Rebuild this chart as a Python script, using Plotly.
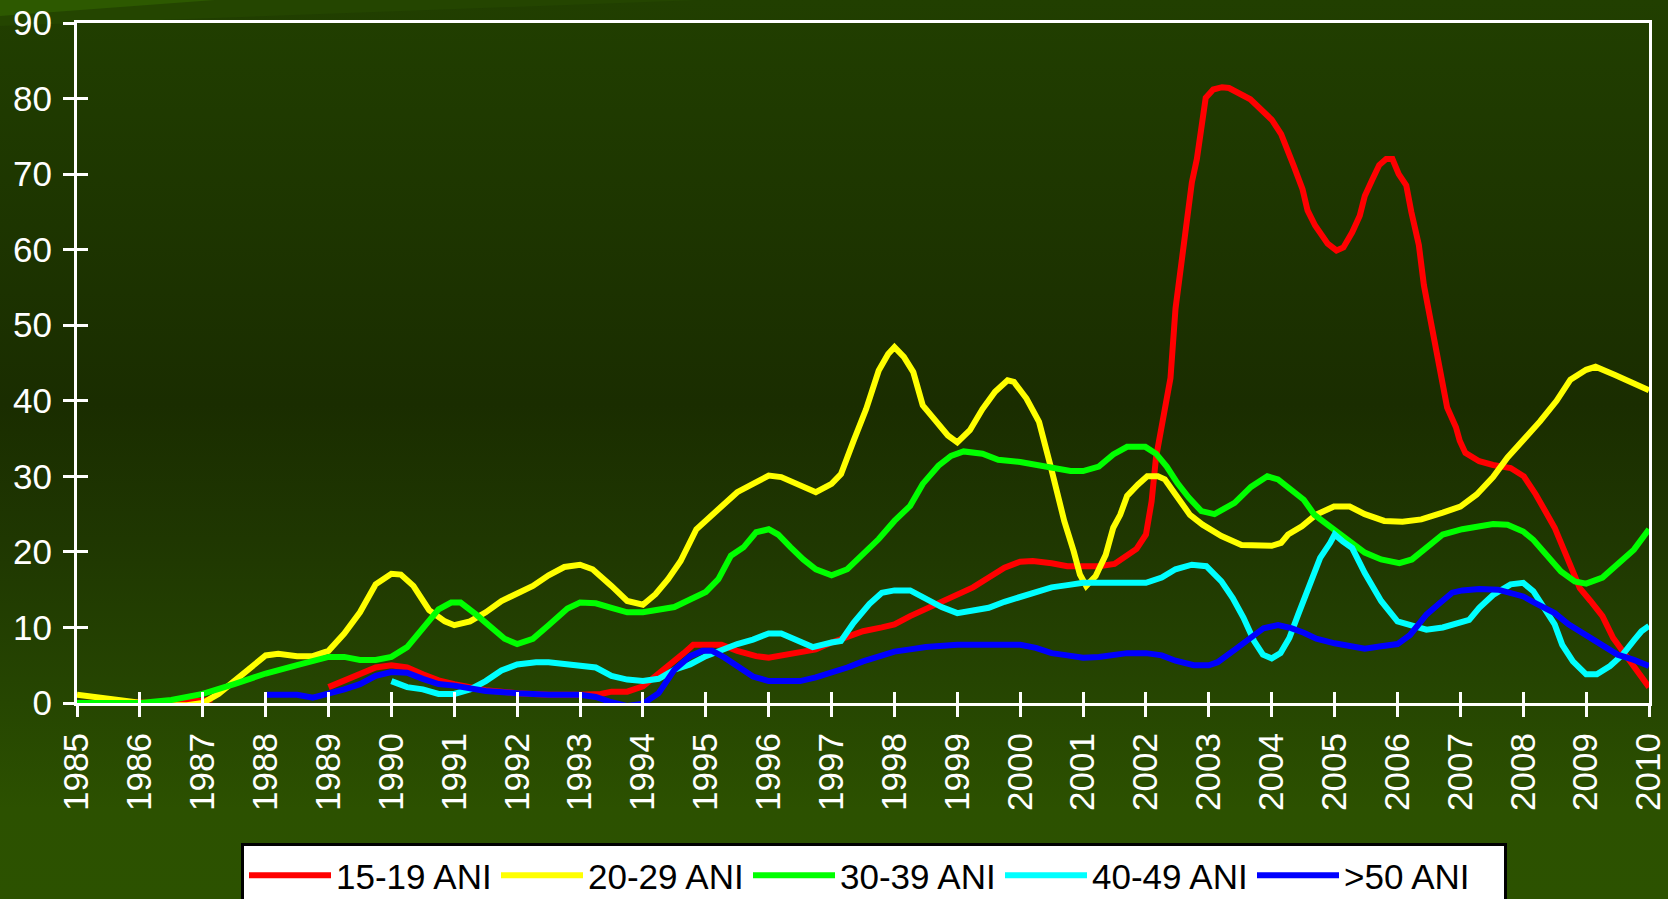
import base64

import plotly.graph_objects as go

# Age groups (ANI = years)
series_names = ["15-19 ANI", "20-29 ANI", "30-39 ANI", "40-49 ANI", ">50 ANI"]
series_colors = ["#ff0000", "#ffff00", "#00ff00", "#00ffff", "#0000ff"]

years_15_19 = [1985, 1986, 1986.5, 1987, 1987.15, None,
               1989, 1989.25, 1989.5, 1989.75, 1990, 1990.25, 1990.5, 1990.75, 1991, 1991.5,
               1992, 1992.5, 1993, 1993.33, 1993.5, 1993.75, 1994, 1994.2, 1994.45, 1994.65,
               1994.8, 1995, 1995.25, 1995.5, 1995.8, 1996, 1996.25, 1996.5, 1996.75, 1997,
               1997.25, 1997.5, 1997.8, 1998, 1998.25, 1998.5, 1998.75, 1999, 1999.25, 1999.5,
               1999.75, 2000, 2000.2, 2000.5, 2000.75, 2001, 2001.25, 2001.5, 2001.65, 2001.85,
               2002, 2002.09, 2002.16, 2002.3, 2002.39, 2002.47, 2002.59, 2002.67, 2002.73,
               2002.81, 2002.87, 2002.95, 2003.07, 2003.21, 2003.32, 2003.66, 2004.0, 2004.15,
               2004.35, 2004.49, 2004.57, 2004.69, 2004.89, 2005.03, 2005.14, 2005.28, 2005.4,
               2005.48, 2005.6, 2005.71, 2005.82, 2005.92, 2006.02, 2006.14, 2006.22, 2006.34,
               2006.42, 2006.51, 2006.59, 2006.68, 2006.79, 2006.85, 2006.93, 2006.99, 2007.08,
               2007.3, 2007.52, 2007.8, 2008.01, 2008.2, 2008.5, 2008.72, 2008.9, 2009.07,
               2009.26, 2009.43, 2009.66, 2009.83, 2010]
vals_15_19 = [0, 0, 0.1, 0.3, 0.5, None,
              2.1, 3, 4, 4.7, 5, 4.7, 3.8, 3, 2.5, 1.7,
              1.3, 1.1, 1.1, 1.2, 1.5, 1.5, 2.2, 3.5, 5.1, 6.6,
              7.7, 7.7, 7.7, 6.9, 6.2, 6, 6.3, 6.6, 7.1, 8,
              8.8, 9.5, 10, 10.4, 11.5, 12.4, 13.3, 14.2, 15.3, 16.6,
              17.9, 18.7, 18.8, 18.5, 18.1, 18.1, 18.1, 18.4, 19.2, 20.4,
              22.3, 26.7, 32.5, 38.6, 43, 52.2, 60.6, 65, 68.9,
              72, 75.5, 80.1, 81.2, 81.5, 81.4, 79.9, 77.2, 75.3,
              71.1, 68, 65.2, 63.2, 60.8, 59.9, 60.3, 62.3, 64.5,
              67.1, 69.3, 71.2, 72, 72, 70, 68.5, 65, 60.6,
              55.3, 51.4, 47.4, 43, 39.1, 38, 36.5, 34.7, 33.1,
              32, 31.5, 31.1, 30, 27.6, 23.2, 18.8, 15.2, 13.5,
              11.5, 8.6, 6, 4, 2.1]

years_20_29 = [1985, 1985.5, 1986, 1986.5, 1986.75, 1987, 1987.25, 1987.5, 1987.75, 1988,
               1988.2, 1988.5, 1988.75, 1989, 1989.25, 1989.5, 1989.75, 1990, 1990.15, 1990.35,
               1990.6, 1990.85, 1991, 1991.25, 1991.5, 1991.75, 1992, 1992.25, 1992.5, 1992.75,
               1993, 1993.2, 1993.5, 1993.75, 1994, 1994.2, 1994.4, 1994.6, 1994.85, 1995,
               1995.25, 1995.5, 1995.75, 1996, 1996.2, 1996.5, 1996.75, 1997, 1997.15, 1997.35,
               1997.55, 1997.75, 1997.9, 1998, 1998.15, 1998.3, 1998.45, 1998.65, 1998.85, 1999,
               1999.2, 1999.4, 1999.6, 1999.8, 1999.9, 2000.1, 2000.3, 2000.5, 2000.7, 2000.85,
               2000.95, 2001.05, 2001.2, 2001.36, 2001.48, 2001.59, 2001.7, 2001.87, 2002.02,
               2002.19, 2002.3, 2002.47, 2002.7, 2002.9, 2003.2, 2003.52, 2003.78, 2004, 2004.15,
               2004.26, 2004.48, 2004.7, 2004.99, 2005.24, 2005.48, 2005.79, 2006.08, 2006.38,
               2006.72, 2007, 2007.26, 2007.52, 2007.75, 2008, 2008.27, 2008.53, 2008.75, 2009,
               2009.15, 2009.46, 2009.72, 2010]
vals_20_29 = [1.1, 0.5, 0.05, -0.3, -0.3, 0, 1.2, 2.9, 4.7, 6.3,
              6.5, 6.2, 6.2, 6.9, 9.2, 12, 15.7, 17.1, 17, 15.5,
              12.3, 10.8, 10.3, 10.8, 12, 13.5, 14.5, 15.5, 16.9, 18,
              18.3, 17.7, 15.5, 13.5, 13, 14.4, 16.4, 18.8, 23, 24.1,
              26.1, 27.9, 29, 30.1, 29.9, 28.8, 27.9, 29, 30.3, 34.7,
              38.9, 44, 46.2, 47.1, 45.8, 43.8, 39.4, 37.4, 35.4, 34.5,
              36.1, 38.9, 41.2, 42.7, 42.5, 40.3, 37.2, 30.8, 24.1, 20.1,
              17, 15.5, 16.8, 19.6, 23.2, 24.9, 27.4, 28.9, 30,
              30, 29.6, 27.6, 24.9, 23.6, 22.1, 20.9, 20.8, 20.8, 21.2,
              22.3, 23.4, 24.9, 26, 26, 25, 24.1, 24, 24.3,
              25.2, 26, 27.6, 29.9, 32.5, 34.7, 37.3, 40, 42.8, 44.1,
              44.5, 43.4, 42.4, 41.4]

years_30_39 = [1985, 1986, 1986.5, 1987, 1987.5, 1988, 1988.5, 1989, 1989.25, 1989.5,
               1989.75, 1990, 1990.25, 1990.5, 1990.75, 1990.95, 1991.1, 1991.35, 1991.6, 1991.8,
               1992, 1992.25, 1992.5, 1992.8, 1993, 1993.25, 1993.5, 1993.75, 1994, 1994.25,
               1994.5, 1994.75, 1995, 1995.2, 1995.4, 1995.6, 1995.8, 1996, 1996.15, 1996.35,
               1996.55, 1996.75, 1997, 1997.25, 1997.5, 1997.75, 1998, 1998.25, 1998.45, 1998.7,
               1998.9, 1999.1, 1999.4, 1999.65, 2000, 2000.3, 2000.55, 2000.8, 2001, 2001.25,
               2001.48, 2001.7, 2001.99, 2002.16, 2002.33, 2002.5, 2002.68, 2002.88, 2003.09,
               2003.41, 2003.67, 2003.93, 2004.1, 2004.31, 2004.51, 2004.68, 2004.88, 2005.05,
               2005.28, 2005.48, 2005.74, 2006.03, 2006.23, 2006.46, 2006.72, 2007.03, 2007.3,
               2007.52, 2007.75, 2008, 2008.16, 2008.39, 2008.6, 2008.82, 2009, 2009.26, 2009.5,
               2009.76, 2010]
vals_30_39 = [0, 0, 0.4, 1.2, 2.5, 3.9, 5, 6.1, 6.1, 5.7,
              5.7, 6.1, 7.4, 10, 12.4, 13.3, 13.3, 11.7, 9.8, 8.5,
              7.8, 8.5, 10.3, 12.5, 13.3, 13.2, 12.6, 12, 12, 12.4,
              12.7, 13.7, 14.7, 16.4, 19.5, 20.6, 22.6, 23, 22.3, 20.6,
              19, 17.7, 16.9, 17.7, 19.7, 21.7, 24.1, 26.1, 29, 31.4,
              32.7, 33.3, 33, 32.2, 31.9, 31.4, 31, 30.7, 30.7, 31.3,
              32.9, 33.9, 33.9, 33, 31.3, 29.1, 27.2, 25.4, 25,
              26.5, 28.6, 30, 29.6, 28.1, 26.9, 24.9, 23.6, 22.5,
              21, 19.9, 19, 18.5, 19, 20.5, 22.3, 23, 23.4,
              23.7, 23.6, 22.7, 21.6, 19.4, 17.4, 16.1, 15.8, 16.6, 18.3,
              20.3, 23]

years_40_49 = [1990, 1990.25, 1990.5, 1990.75, 1991, 1991.25, 1991.5, 1991.75, 1992, 1992.3,
               1992.5, 1993, 1993.25, 1993.5, 1993.75, 1994, 1994.25, 1994.5, 1994.75, 1995,
               1995.25, 1995.5, 1995.75, 1996, 1996.2, 1996.45, 1996.7, 1997, 1997.15, 1997.35,
               1997.6, 1997.8, 1998, 1998.25, 1998.5, 1998.75, 1999, 1999.25, 1999.5, 1999.75,
               2000, 2000.25, 2000.5, 2000.75, 2001, 2001.5, 2002, 2002.25, 2002.47, 2002.73,
               2002.96, 2003.2, 2003.38, 2003.55, 2003.72, 2003.86, 2004, 2004.14, 2004.28,
               2004.42, 2004.53, 2004.66, 2004.77, 2004.93, 2005, 2005.13, 2005.28, 2005.48,
               2005.62, 2005.74, 2006, 2006.23, 2006.46, 2006.72, 2007.14, 2007.3, 2007.52,
               2007.8, 2008, 2008.16, 2008.36, 2008.5, 2008.62, 2008.79, 2009, 2009.17, 2009.38,
               2009.58, 2009.76, 2009.88, 2010]
vals_40_49 = [2.9, 2.1, 1.8, 1.2, 1.2, 1.8, 2.9, 4.3, 5.1, 5.4,
              5.4, 5, 4.7, 3.6, 3.1, 2.9, 3.2, 4.4, 5.1, 6.2,
              7.1, 7.8, 8.4, 9.2, 9.2, 8.2, 7.4, 8, 8.2, 10.6,
              13.1, 14.6, 14.9, 14.9, 13.7, 12.7, 11.9, 12.3, 12.6, 13.4,
              14.1, 14.7, 15.3, 15.6, 15.9, 15.9, 15.9, 16.6, 17.7, 18.3,
              18.1, 16.1, 13.9, 11.3, 8.2, 6.4, 5.9, 6.6, 8.6,
              11.7, 13.9, 17, 19.2, 21.2, 22.3, 21.4, 20.5, 17.2,
              15.2, 13.5, 10.8, 10.2, 9.7, 10, 11, 12.6, 14.3,
              15.7, 15.9, 14.8, 12.4, 10.4, 7.7, 5.5, 3.8, 3.8, 4.9,
              6.4, 8.3, 9.5, 10.2]

years_50_plus = [1988, 1988.5, 1988.75, 1989, 1989.25, 1989.5, 1989.75, 1990, 1990.25, 1990.5,
                 1990.75, 1991, 1991.5, 1992, 1992.5, 1993, 1993.25, 1993.5, 1993.75, 1994,
                 1994.25, 1994.5, 1994.75, 1994.95, 1995.1, 1995.3, 1995.5, 1995.75, 1996, 1996.25,
                 1996.5, 1996.75, 1997, 1997.25, 1997.5, 1997.75, 1998, 1998.25, 1998.5, 1999,
                 1999.5, 2000, 2000.25, 2000.5, 2000.75, 2001, 2001.25, 2001.7, 2002, 2002.25,
                 2002.47, 2002.76, 2003, 2003.14, 2003.42, 2003.65, 2003.87, 2004.1, 2004.31,
                 2004.51, 2004.71, 2005, 2005.23, 2005.48, 2005.74, 2006, 2006.2, 2006.46, 2006.67,
                 2006.87, 2007.03, 2007.3, 2007.6, 2008, 2008.2, 2008.5, 2008.72, 2009, 2009.26,
                 2009.5, 2009.76, 2010]
vals_50_plus = [1.1, 1.1, 0.7, 1.2, 1.8, 2.5, 3.6, 4.1, 4, 3.2,
                2.5, 2.3, 1.6, 1.3, 1.1, 1.1, 0.8, 0.1, -0.4, -0.1,
                1.3, 4.4, 6.2, 6.9, 6.9, 6, 4.9, 3.5, 2.9, 2.9,
                2.9, 3.4, 4, 4.7, 5.5, 6.2, 6.8, 7.1, 7.4, 7.7,
                7.7, 7.7, 7.3, 6.6, 6.3, 6, 6.1, 6.6, 6.6, 6.3,
                5.6, 5, 5, 5.4, 7.1, 8.6, 9.9, 10.3, 9.9,
                9.3, 8.5, 7.9, 7.6, 7.2, 7.5, 7.8, 9, 11.7, 13.2,
                14.6, 14.9, 15.1, 15, 14.1, 13.2, 11.9, 10.4, 9, 7.7,
                6.4, 5.7, 4.9]

x_ticks = list(range(1985, 2011))
y_ticks = list(range(0, 91, 10))

FONT = "Liberation Sans, Arial, sans-serif"

# dark green slide background with a lighter swoosh top-left
bg_svg = (
    "<svg xmlns='http://www.w3.org/2000/svg' width='1668' height='899' "
    "viewBox='0 0 1668 899' preserveAspectRatio='none'>"
    "<defs><linearGradient id='g' x1='0' y1='0' x2='0' y2='1'>"
    "<stop offset='0' stop-color='#213f00'/>"
    "<stop offset='0.45' stop-color='#1a2d00'/>"
    "<stop offset='0.6' stop-color='#1f3701'/>"
    "<stop offset='0.78' stop-color='#264601'/>"
    "<stop offset='0.9' stop-color='#2c5100'/>"
    "<stop offset='1' stop-color='#2c5200'/>"
    "</linearGradient></defs>"
    "<rect width='1668' height='899' fill='url(#g)'/>"
    "<polygon points='0,0 700,0 0,26' fill='#244500'/>"
    "<polygon points='0,0 215,0 0,16' fill='#2d5900'/>"
    "</svg>"
)
bg_uri = "data:image/svg+xml;base64," + base64.b64encode(bg_svg.encode()).decode()

fig = go.Figure()
all_x = [years_15_19, years_20_29, years_30_39, years_40_49, years_50_plus]
all_y = [vals_15_19, vals_20_29, vals_30_39, vals_40_49, vals_50_plus]
for name, color, xs, ys in zip(series_names, series_colors, all_x, all_y):
    fig.add_trace(go.Scatter(
        x=xs, y=ys, name=name, mode="lines",
        line=dict(color=color, width=6), connectgaps=False,
    ))

# invisible trace so the overlay axes (inner half of the crossing ticks) get drawn
fig.add_trace(go.Scatter(
    x=[1985], y=[0], xaxis="x2", yaxis="y2", mode="lines",
    showlegend=False, hoverinfo="skip",
))

W, H = 1668, 899
ML, MR, MT, MB = 77, 19, 23, 196
pw, ph = W - ML - MR, H - MT - MB

axis_common = dict(
    showgrid=False, zeroline=False, linecolor="white", linewidth=3,
    tickcolor="white", tickwidth=3, ticklen=11,
    tickfont=dict(family=FONT, size=35, color="white"),
)

fig.update_layout(
    width=W, height=H,
    margin=dict(l=ML, r=MR, t=MT, b=MB, autoexpand=False),
    paper_bgcolor="#1f3a00",
    plot_bgcolor="rgba(0,0,0,0)",
    font=dict(family=FONT, size=34, color="white"),
    xaxis=dict(
        range=[1985, 2010], tickvals=x_ticks, ticktext=[str(v) for v in x_ticks],
        tickangle=-90, ticks="outside", showline=True, mirror=True,
        ticklabelstandoff=2, **axis_common,
    ),
    yaxis=dict(
        range=[0, 90], tickvals=y_ticks, ticks="outside", showline=True, mirror=True,
        ticklabelstandoff=4, **axis_common,
    ),
    xaxis2=dict(
        range=[1985, 2010], tickvals=x_ticks, overlaying="x", anchor="y", side="bottom",
        ticks="inside", showticklabels=False, showline=False, showgrid=False,
        zeroline=False, tickcolor="white", tickwidth=3, ticklen=11,
    ),
    yaxis2=dict(
        range=[0, 90], tickvals=y_ticks, overlaying="y", anchor="x", side="left",
        ticks="inside", showticklabels=False, showline=False, showgrid=False,
        zeroline=False, tickcolor="white", tickwidth=3, ticklen=11,
    ),
    legend=dict(
        orientation="h", x=(241 - ML) / pw, xanchor="left",
        y=-(843 - (MT + ph)) / ph, yanchor="top",
        bgcolor="white", bordercolor="black", borderwidth=3,
        font=dict(family=FONT, size=35, color="black"),
        entrywidth=155, entrywidthmode="pixels", itemwidth=82,
    ),
    images=[dict(
        source=bg_uri, xref="paper", yref="paper",
        x=-ML / pw, y=1 + MT / ph, sizex=W / pw, sizey=H / ph,
        xanchor="left", yanchor="top", sizing="stretch", layer="below",
    )],
    showlegend=True,
)

# page has a default 8px body margin; drop it so the figure fills the window
fig.write_html(
    "out.html",
    config={"displayModeBar": False},
    post_script="document.body.style.margin='0px';",
)
